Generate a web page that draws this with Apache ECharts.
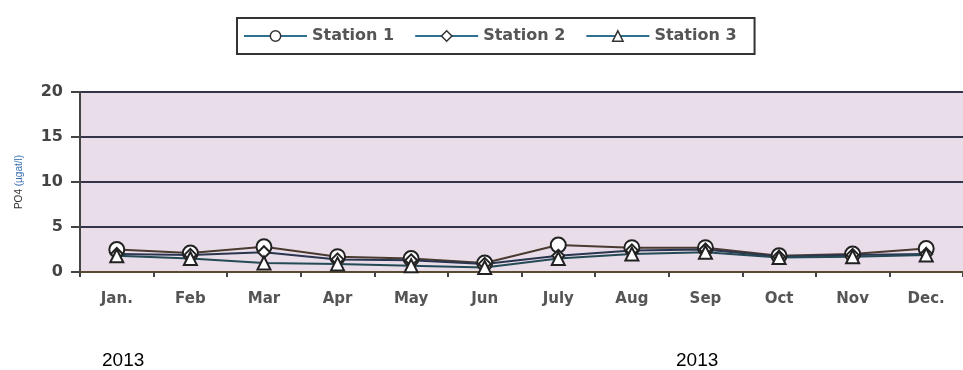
<!DOCTYPE html>
<html><head><meta charset="utf-8">
<script src="https://cdn.jsdelivr.net/npm/echarts@6/dist/echarts.min.js"></script>
<style>html,body{margin:0;padding:0;background:#fff}#c{width:963px;height:370px}</style>
</head><body><div id="c"></div>
<script>
const months = ['Jan.','Feb','Mar','Apr','May','Jun','July','Aug','Sep','Oct','Nov','Dec.'];
const station1 = [2.5, 2.1, 2.8, 1.7, 1.5, 1.0, 3.0, 2.7, 2.7, 1.8, 2.0, 2.6];
const station2 = [2.0, 1.9, 2.2, 1.4, 1.3, 0.9, 1.8, 2.4, 2.5, 1.7, 1.9, 2.0];
const station3 = [1.8, 1.5, 1.0, 0.9, 0.7, 0.5, 1.5, 2.0, 2.2, 1.6, 1.7, 1.9];
const yTicks = [0, 5, 10, 15, 20];
const footLabels = ['2013', '2013'];

const chart = echarts.init(document.getElementById('c'));
const mk = (name, data, symbol, size, color) => ({
  name, type: 'line', data, symbol, symbolSize: size,
  lineStyle: {color, width: 2},
  itemStyle: {color: '#fff', borderColor: '#222', borderWidth: 2},
  emphasis: {disabled: true}
});
chart.setOption({
  animation: false,
  backgroundColor: '#fff',
  legend: {
    top: 18, left: 237, itemWidth: 63, itemHeight: 13, itemGap: 20,
    data: ['Station 1','Station 2','Station 3'],
    borderColor: '#333', borderWidth: 2, padding: [10, 18, 10, 6],
    textStyle: {fontFamily: 'DejaVu Sans', fontWeight: 'bold', fontSize: 16, color: '#555'},
    itemStyle: {color: '#fff', borderColor: '#333', borderWidth: 1.5},
    lineStyle: {color: '#2f6f8f', width: 2}
  },
  grid: {left: 80, top: 92, height: 180, width: 908, containLabel: false,
         show: true, backgroundColor: '#e9dde9', borderWidth: 0},
  xAxis: {
    type: 'category', data: months, boundaryGap: true,
    axisLine: {lineStyle: {color: '#5a4a30', width: 2}},
    axisTick: {show: true, length: 5, lineStyle: {color: '#444', width: 2}},
    axisLabel: {margin: 20, fontFamily: 'DejaVu Sans', fontSize: 15, color: '#555', fontWeight: 'bold'}
  },
  yAxis: {
    type: 'value', min: yTicks[0], max: yTicks[yTicks.length-1], interval: 5,
    name: '{a|PO4 }{b|(µgat/l)}', nameLocation: 'middle', nameGap: 56, nameRotate: 90,
    nameTextStyle: {rich: {
      a: {fontFamily: 'Liberation Sans', fontSize: 10, color: '#333'},
      b: {fontFamily: 'Liberation Sans', fontSize: 10, color: '#3a6fb0'}}},
    axisLine: {show: true, lineStyle: {color: '#444', width: 2}},
    axisTick: {show: true, length: 9, lineStyle: {color: '#444', width: 2}},
    axisLabel: {margin: 17, fontFamily: 'DejaVu Sans', fontSize: 16, fontWeight: 'bold', color: '#444'},
    splitLine: {show: true, lineStyle: {color: '#33334a', width: 2}}
  },
  graphic: [
    {type: 'text', left: 102, top: 351, style: {text: footLabels[0], font: '19px "Liberation Sans"', fill: '#000'}},
    {type: 'text', left: 676, top: 351, style: {text: footLabels[1], font: '19px "Liberation Sans"', fill: '#000'}}
  ],
  series: [
    mk('Station 1', station1, 'circle', 15, '#4a3a30'),
    mk('Station 2', station2, 'diamond', 12, '#2a3550'),
    mk('Station 3', station3, 'triangle', 13, '#244a55')
  ]
});
</script></body></html>
